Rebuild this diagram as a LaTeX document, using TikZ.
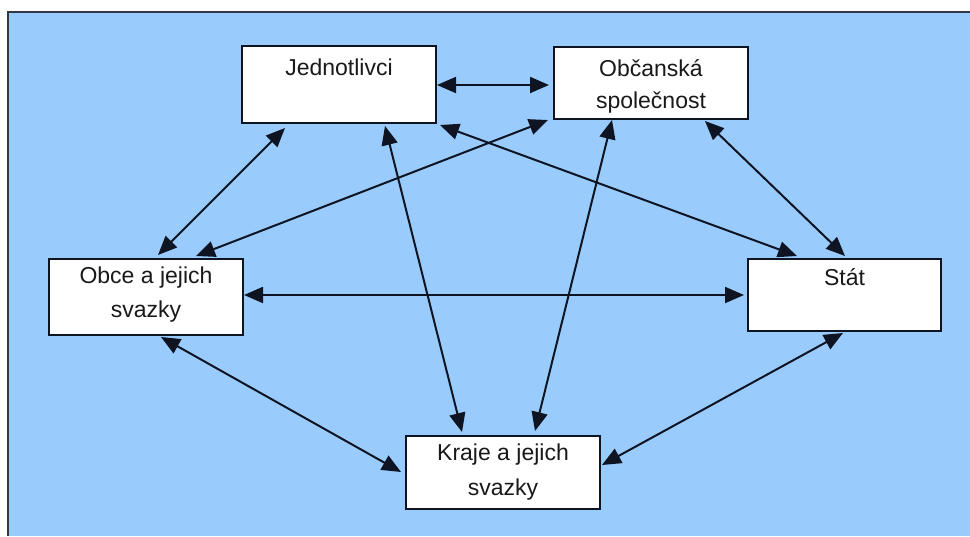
\documentclass[tikz,border=0pt]{standalone}
\usepackage{fontspec}
\setmainfont{Liberation Sans}
\usetikzlibrary{arrows.meta,calc}
\definecolor{bg}{RGB}{153,204,252}
\definecolor{ink}{RGB}{15,20,35}
\begin{document}
\begin{tikzpicture}[x=1pt,y=-1pt,
  box/.style={draw=ink, line width=2pt, fill=white, minimum width=194pt, anchor=north west, inner sep=0pt},
  txt/.style={anchor=base, inner sep=0pt, font=\fontsize{23}{23}\selectfont, text=black!90},
  link/.style={draw=ink, line width=2pt, {Triangle[length=19pt,width=16pt]}-{Triangle[length=19pt,width=16pt]}}]
\useasboundingbox (0,0) rectangle (970,536);
\fill[white] (0,0) rectangle (970,536);
\fill[bg] (8,12) rectangle (970,536);
\draw[ink!85, line width=2pt] (8,536) -- (8,12) -- (970,12);

% boxes
\node[box, minimum height=77pt] (J) at (241,45) {};
\node[box, minimum height=72pt] (O) at (553,46) {};
\node[box, minimum height=76pt] (Ob) at (48,258) {};
\node[box, minimum width=193pt, minimum height=72pt] (S) at (747,258) {};
\node[box, minimum height=73pt] (K) at (405,435) {};

% texts
\node[txt] (Jt) at ($(J.north)+(0,30)$) {Jednotlivci};
\node[txt] (Ot1) at ($(O.north)+(0,30)$) {Občanská};
\node[txt] (Ot2) at ($(O.north)+(0,62)$) {společnost};
\node[txt] (Obt1) at ($(Ob.north)+(0,25)$) {Obce a jejich};
\node[txt] (Obt2) at ($(Ob.north)+(0,59)$) {svazky};
\node[txt] (St) at ($(S.north)+(0,27)$) {Stát};
\node[txt] (Kt1) at ($(K.north)+(0,25)$) {Kraje a jejich};
\node[txt] (Kt2) at ($(K.north)+(0,60)$) {svazky};

% connectors
\draw[link] ($(J.north west)+(196,40)$) -- ($(O.north west)+(-4,39)$);
\draw[link] ($(J.north west)+(44,83)$) -- ($(Ob.north west)+(110,-3)$);
\draw[link] ($(O.north west)+(-5,74)$) -- ($(Ob.north west)+(148,-2)$);
\draw[link] ($(J.north west)+(199,80)$) -- ($(S.north west)+(50,-2)$);
\draw[link] ($(J.north west)+(144,81)$) -- ($(K.north west)+(57,-3)$);
\draw[link] ($(O.north west)+(59,74)$) -- ($(K.north west)+(130,-4)$);
\draw[link] ($(O.north west)+(152,75)$) -- ($(S.north west)+(98,-2)$);
\draw[link] ($(Ob.north west)+(196,37)$) -- ($(S.north west)+(-3,37)$);
\draw[link] ($(Ob.north west)+(113,79)$) -- ($(K.north west)+(-4,37)$);
\draw[link] ($(S.north west)+(96,75)$) -- ($(K.north west)+(197,30)$);
\end{tikzpicture}
\end{document}
